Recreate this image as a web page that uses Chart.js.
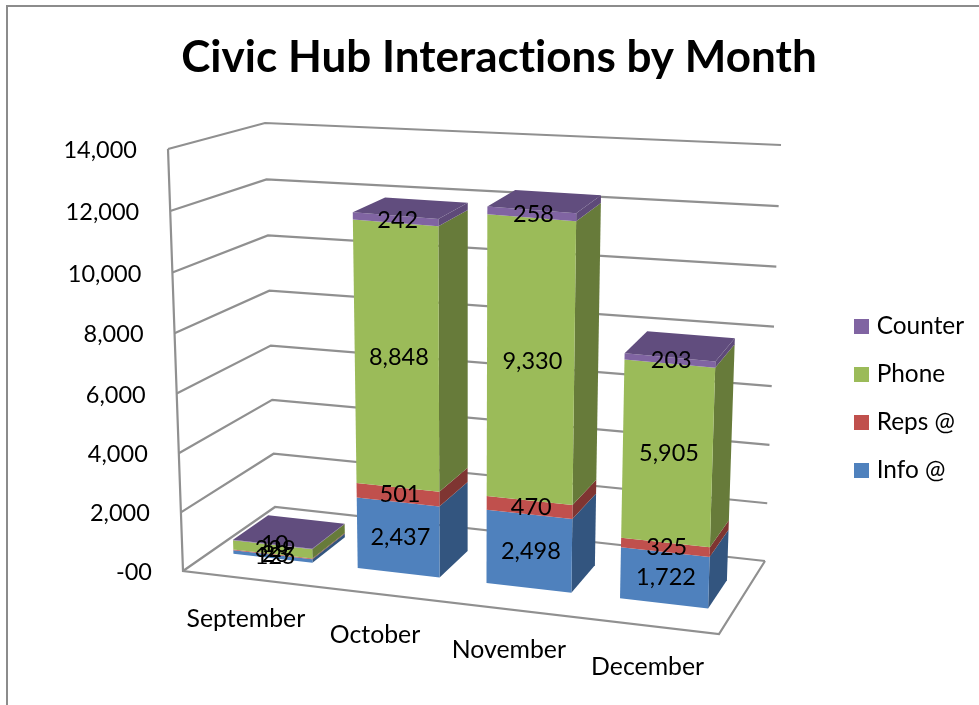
<!DOCTYPE html>
<html>
<head>
<meta charset="utf-8">
<title>Civic Hub Interactions by Month</title>
<script src="https://cdn.jsdelivr.net/npm/chart.js@4"></script>
<style>
  html, body { margin: 0; padding: 0; background: #fff; overflow: hidden; }
  canvas { display: block; }
</style>
</head>
<body>
<canvas id="hubChart" width="979" height="705"></canvas>
<script>
// Data
const months = ['September', 'October', 'November', 'December'];
const infoAt = [125, 2437, 2498, 1722];
const repsAt = [23, 501, 470, 325];
const phone = [329, 8848, 9330, 5905];
const counter = [10, 242, 258, 203];
const yTickLabels = ['-00', '2,000', '4,000', '6,000', '8,000', '10,000', '12,000', '14,000'];

// Office palette: front, side and top shades
const frontColors = ['#4f81bd', '#c0504d', '#9bbb59', '#8064a2'];
const sideColors = ['#33557f', '#7f3532', '#677b3a', '#5e4a79'];
const topColor = '#614d7e';
const gridColor = '#909090';
const fontName = 'Lato, "Open Sans", sans-serif';

// Corners of the 3D box on the page, f/b = front/back, l/r = left/right
const bottomCorners = { fl: [183, 571], fr: [719, 634], bl: [275, 507], br: [765, 561] };
const topCorners = { fl: [168, 149], fr: [732, 196], bl: [265, 123], br: [781, 145] };
const xPerspective = 1.075;
const yPerspective = 1.034;
const barFrontDepth = 0.31;
const barBackDepth = 0.70;

function mix(a, b, f) {
  return [a[0] + (b[0] - a[0]) * f, a[1] + (b[1] - a[1]) * f];
}

// t, v and depth all run 0..1 across the box
function project(t, v, depth) {
  const u = t / (t + xPerspective * (1 - t));
  const h = v / (v + yPerspective * (1 - v));
  const plane = c => mix(mix(c.fl, c.fr, u), mix(c.bl, c.br, u), depth);
  return mix(plane(bottomCorners), plane(topCorners), h);
}

function fillPoly(ctx, pts, color) {
  ctx.beginPath();
  pts.forEach((p, i) => i ? ctx.lineTo(p[0], p[1]) : ctx.moveTo(p[0], p[1]));
  ctx.closePath();
  ctx.fillStyle = color;
  ctx.fill();
}

function strokeLine(ctx, pts) {
  ctx.beginPath();
  pts.forEach((p, i) => i ? ctx.lineTo(p[0], p[1]) : ctx.moveTo(p[0], p[1]));
  ctx.stroke();
}

function legendSwatch(color) {
  const c = document.createElement('canvas');
  c.width = 15;
  c.height = 15;
  const g = c.getContext('2d');
  g.fillStyle = color;
  g.fillRect(0, 0, 15, 15);
  return c;
}

const box3d = {
  id: 'box3d',
  beforeDraw(chart) {
    // a tiny spacing keeps Lato from joining "ti" in the title
    chart.ctx.letterSpacing = '0.02px';
  },
  beforeDatasetsDraw(chart) {
    const { ctx, chartArea: area, scales } = chart;
    const toT = px => (px - area.left) / area.width;
    const toV = py => (area.bottom - py) / area.height;

    ctx.save();
    // outer frame of the chart, it runs off the right and bottom of the page
    ctx.strokeStyle = '#8c8c8c';
    ctx.lineWidth = 2;
    strokeLine(ctx, [[7, 705], [7, 6], [979, 6]]);

    // walls and floor
    ctx.strokeStyle = gridColor;
    ctx.lineWidth = 2.2;
    scales.y.ticks.forEach(tick => {
      const v = toV(scales.y.getPixelForValue(tick.value));
      strokeLine(ctx, [project(0, v, 0), project(0, v, 1), project(1, v, 1)]);
    });
    strokeLine(ctx, [project(0, 1, 0), project(0, 0, 0), project(1, 0, 0), project(1, 0, 1)]);

    // stacked bars, left to right and bottom up
    const metas = chart.data.datasets.map((d, i) => chart.getDatasetMeta(i));
    months.forEach((m, j) => {
      metas.forEach((meta, s) => {
        const el = meta.data[j].getProps(['x', 'y', 'base', 'width']);
        const t0 = toT(el.x - el.width / 2);
        const t1 = toT(el.x + el.width / 2);
        const v0 = toV(el.base);
        const v1 = toV(el.y);
        fillPoly(ctx, [project(t1, v0, barFrontDepth), project(t1, v0, barBackDepth),
          project(t1, v1, barBackDepth), project(t1, v1, barFrontDepth)], sideColors[s]);
        fillPoly(ctx, [project(t0, v0, barFrontDepth), project(t1, v0, barFrontDepth),
          project(t1, v1, barFrontDepth), project(t0, v1, barFrontDepth)], frontColors[s]);
        if (s === metas.length - 1) {
          fillPoly(ctx, [project(t0, v1, barFrontDepth), project(t1, v1, barFrontDepth),
            project(t1, v1, barBackDepth), project(t0, v1, barBackDepth)], topColor);
        }
      });
    });

    // value labels
    ctx.fillStyle = '#000';
    ctx.font = '23.5px ' + fontName;
    ctx.textAlign = 'center';
    ctx.textBaseline = 'middle';
    metas.forEach((meta, s) => {
      meta.data.forEach((bar, j) => {
        const el = bar.getProps(['x', 'y', 'base']);
        const p = project(toT(el.x), toV((el.y + el.base) / 2), barFrontDepth + 0.03);
        const value = chart.data.datasets[s].data[j];
        ctx.fillText(value.toLocaleString('en-US'), p[0], p[1] + 2);
      });
    });

    // y axis labels, hung off the tilted front edge
    ctx.font = '23.5px ' + fontName;
    ctx.textAlign = 'right';
    scales.y.ticks.forEach(tick => {
      const p = project(0, toV(scales.y.getPixelForValue(tick.value)), 0);
      ctx.fillText(tick.label, p[0] - 31, p[1] + 1.5);
    });

    // month labels under the front edge of the floor
    ctx.font = '24.8px ' + fontName;
    ctx.textAlign = 'center';
    scales.x.ticks.forEach((tick, i) => {
      const p = project(toT(scales.x.getPixelForTick(i)), 0, 0);
      ctx.fillText(months[tick.value], p[0], p[1] + 41);
    });
    ctx.restore();
    return false; // native flat bars are replaced by the boxes above
  }
};

const makeDataset = (label, data, i) => ({ label, data, backgroundColor: frontColors[i], pointStyle: legendSwatch(frontColors[i]) });

new Chart(document.getElementById('hubChart'), {
  type: 'bar',
  data: {
    labels: months,
    datasets: [
      makeDataset('Info @', infoAt, 0),
      makeDataset('Reps @', repsAt, 1),
      makeDataset('Phone', phone, 2),
      makeDataset('Counter', counter, 3)
    ]
  },
  plugins: [box3d],
  options: {
    responsive: false,
    animation: false,
    barPercentage: 0.64,
    categoryPercentage: 1,
    layout: { padding: { left: 24, right: 5 } },
    scales: {
      x: { stacked: true, display: false },
      y: {
        stacked: true, display: false, min: 0, max: 14000,
        ticks: { stepSize: 2000, callback: (v, i) => yTickLabels[i] }
      }
    },
    plugins: {
      tooltip: { enabled: false },
      title: {
        display: true,
        text: 'Civic Hub Interactions by Month',
        color: '#000',
        font: { family: fontName, size: 44, weight: 'bold' },
        padding: { top: 31, bottom: 8 }
      },
      legend: {
        position: 'right',
        fullSize: false,
        reverse: true,
        labels: {
          color: '#000',
          font: { family: fontName, size: 24.4 },
          usePointStyle: true,
          pointStyleWidth: 6,
          padding: 23.5,
          generateLabels: chart => chart.data.datasets.map((d, i) => ({
            text: d.label,
            fontColor: '#000',
            pointStyle: d.pointStyle,
            datasetIndex: i
          }))
        }
      }
    }
  }
});
</script>
</body>
</html>
